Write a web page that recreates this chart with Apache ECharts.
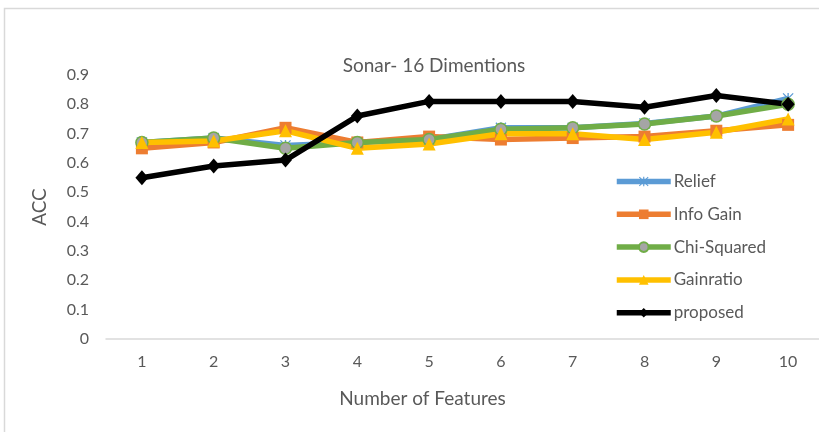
<!DOCTYPE html>
<html>
<head>
<meta charset="utf-8">
<script src="https://cdn.jsdelivr.net/npm/echarts@6/dist/echarts.min.js"></script>
<style>
  html, body { margin: 0; padding: 0; background: #fff; }
  #chart { width: 819px; height: 432px; }
</style>
</head>
<body>
<div id="chart"></div>
<script>
// Accuracy vs. number of selected features on the Sonar dataset
const features    = [1, 2, 3, 4, 5, 6, 7, 8, 9, 10];
const relief      = [0.67, 0.685, 0.66, 0.67, 0.68, 0.72, 0.72, 0.735, 0.76, 0.82];
const infoGain    = [0.65, 0.67, 0.72, 0.67, 0.69, 0.68, 0.685, 0.69, 0.71, 0.73];
const chiSquared  = [0.67, 0.685, 0.65, 0.67, 0.68, 0.715, 0.72, 0.733, 0.76, 0.80];
const gainRatio   = [0.67, 0.675, 0.71, 0.65, 0.665, 0.70, 0.70, 0.68, 0.705, 0.75];
const proposed    = [0.55, 0.59, 0.61, 0.76, 0.81, 0.81, 0.81, 0.79, 0.83, 0.80];

const font = 'Lato, "Open Sans", sans-serif';
const textColor = '#595959';

// asterisk marker: vertical bar plus two diagonals
const asterisk = 'path://M4.4,0 L5.6,0 L5.6,10 L4.4,10 Z M0,0.8 L0.8,0 L10,9.2 L9.2,10 Z M10,0.8 L9.2,0 L0,9.2 L0.8,10 Z';

const pairs = vals => vals.map((v, i) => [features[i], v]);

function lineSeries(name, data, color, symbol, size, extra) {
  return Object.assign({
    name: name,
    type: 'line',
    data: pairs(data),
    symbol: symbol,
    symbolSize: size,
    lineStyle: { color: color, width: 5.5 },
    itemStyle: { color: color },
    emphasis: { disabled: true },
    animation: false
  }, extra || {});
}

const chart = echarts.init(document.getElementById('chart'));
chart.setOption({
  backgroundColor: '#fff',
  textStyle: { fontFamily: font },
  graphic: [{
    type: 'rect',
    shape: { x: 4.5, y: 8.5, width: 840, height: 450 },
    style: { fill: 'none', stroke: '#d9d9d9', lineWidth: 1.5 },
    silent: true
  }],
  title: {
    text: 'Sonar- 16 Dimentions',
    left: 429, top: 51, textAlign: 'center',
    textStyle: { fontFamily: font, fontSize: 19, fontWeight: 'normal', color: textColor }
  },
  legend: {
    orient: 'vertical',
    left: 609, top: 168,
    itemWidth: 54, itemHeight: 12,
    itemGap: 15.8,
    lineStyle: { width: 5.5 },
    textStyle: { fontFamily: font, fontSize: 17, color: textColor, padding: [0, 0, 0, -2] },
    data: ['Relief', 'Info Gain', 'Chi-Squared', 'Gainratio', 'proposed']
  },
  grid: { left: 106, top: 75, right: 0, height: 264 },
  xAxis: {
    type: 'value',
    min: 0.5, max: 10.43,
    name: 'Number of Features',
    nameLocation: 'middle',
    nameGap: 50,
    nameTextStyle: { fontFamily: font, fontSize: 19, color: textColor, padding: [0, 80, 0, 0] },
    axisLine: { lineStyle: { color: '#d9d9d9', width: 1.5 } },
    axisTick: { show: false },
    splitLine: { show: false },
    axisLabel: { fontFamily: font, fontSize: 16, color: textColor, margin: 15, customValues: features }
  },
  yAxis: {
    type: 'value',
    min: 0, max: 0.9, interval: 0.1,
    name: 'ACC',
    nameLocation: 'middle',
    nameRotate: 90,
    nameGap: 57,
    nameTextStyle: { fontFamily: font, fontSize: 19, color: textColor },
    axisLine: { show: false },
    axisTick: { show: false },
    splitLine: { show: false },
    axisLabel: {
      fontFamily: font, fontSize: 16, color: textColor, margin: 17,
      formatter: v => String(Math.round(v * 10) / 10)
    }
  },
  series: [
    lineSeries('Relief', relief, '#5b9bd5', asterisk, 11),
    lineSeries('Info Gain', infoGain, '#ed7d31', 'rect', 12),
    lineSeries('Chi-Squared', chiSquared, '#70ad47', 'circle', 12, {
      itemStyle: { color: '#a5a5a5', borderColor: '#70ad47', borderWidth: 1.5 }
    }),
    lineSeries('Gainratio', gainRatio, '#ffc000', 'triangle', 13),
    lineSeries('proposed', proposed, '#000000', 'diamond', [13, 15])
  ]
});
</script>
</body>
</html>
